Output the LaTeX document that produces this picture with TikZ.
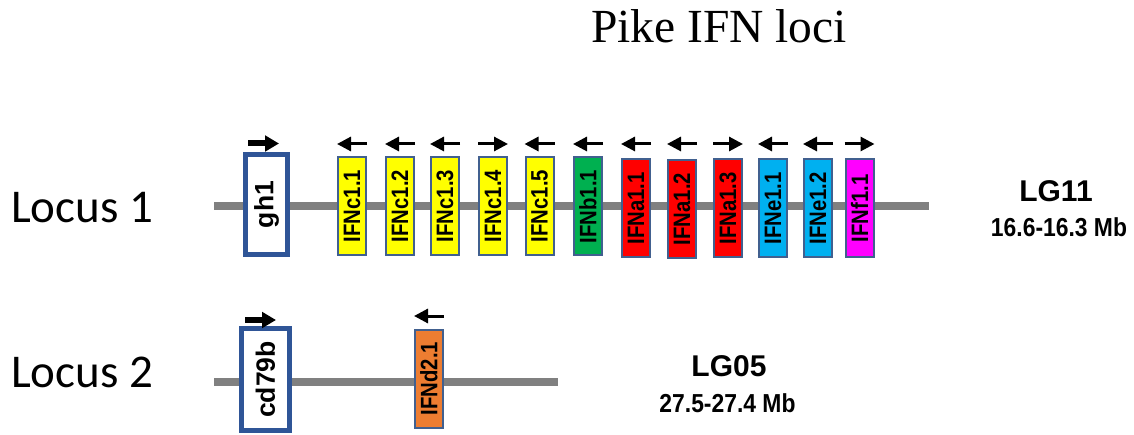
\documentclass[tikz,border=0pt]{standalone}
\usepackage{fontspec}
\setmainfont{Liberation Serif}
\newfontfamily\arialf{Liberation Sans}
\newfontfamily\calibf{Carlito}
\usetikzlibrary{arrows.meta,calc}
\definecolor{ifnyellow}{HTML}{FFFF00}
\definecolor{ifngreen}{HTML}{00B050}
\definecolor{ifnred}{HTML}{FF0000}
\definecolor{ifnblue}{HTML}{00B0F0}
\definecolor{ifnmag}{HTML}{FF00FF}
\definecolor{ifnorange}{HTML}{ED7D31}
\definecolor{boxborder}{HTML}{2F5597}
\definecolor{thinborder}{HTML}{41608F}
\definecolor{chrom}{HTML}{808080}
\newcommand{\genetext}[1]{\scalebox{1}[1.17]{#1}}
\tikzset{
  chromline/.style={draw=chrom, line width=7.5pt},
  gene/.style={draw=thinborder, line width=2pt, rotate=90, minimum width=98pt, minimum height=28pt, inner sep=0pt, font=\arialf\bfseries\fontsize{20.3}{20}\selectfont},
  bigbox/.style={draw=boxborder, fill=white, line width=5pt, rotate=90, inner sep=0pt, font=\arialf\bfseries\fontsize{26.5}{26}\selectfont},
  thinarr/.style={line width=3pt, -{Triangle[length=14pt,width=14pt]}},
  thickarr/.style={line width=6pt, -{Triangle[length=14pt,width=15.5pt]}},
  locuslabel/.style={font=\calibf\fontsize{47}{47}\selectfont, inner sep=0pt, anchor=base west},
  lglabel/.style={font=\arialf\bfseries\fontsize{30}{30}\selectfont, inner sep=0pt, anchor=base},
  mblabel/.style={font=\arialf\bfseries\fontsize{26}{26}\selectfont, inner sep=0pt, anchor=base, xscale=0.88},
}
\begin{document}
\begin{tikzpicture}[x=1pt,y=1pt]
\useasboundingbox (0,0) rectangle (1134,434);
% title
\node[font=\fontsize{47.5}{47.5}\selectfont, inner sep=0pt, anchor=base] (title) at (719,391) {Pike IFN loci};
% locus labels
\node[locuslabel] (loc1) at (11,211) {Locus 1};
\node[locuslabel] (loc2) at (11,47) {Locus 2};
% chromosome lines
\coordinate (l1a) at (214,228);
\coordinate (l1b) at (929,228);
\coordinate (l2a) at (214,52);
\coordinate (l2b) at (558,52);
\draw[chromline] (l1a) -- (l1b);
\draw[chromline] (l2a) -- (l2b);
% big boxes
\node[bigbox, minimum width=100pt, minimum height=42pt] (gh1) at (266.5,229.5) {gh1};
\draw[thickarr] (248,290.5) -- (279,290.5);
\node[bigbox, minimum width=102pt, minimum height=48pt] (cd79b) at (265.5,54.5) {cd79b};
\draw[thickarr] (245,114) -- (276,114);
% IFN genes locus 1
\foreach \n/\x/\y/\c/\t/\d in {
  c11/352/228/ifnyellow/IFNc1.1/-1,
  c12/400/228/ifnyellow/IFNc1.2/-1,
  c13/445/228/ifnyellow/IFNc1.3/-1,
  c14/493/228/ifnyellow/IFNc1.4/1,
  c15/539.5/228/ifnyellow/IFNc1.5/-1,
  b11/588/227.5/ifngreen/IFNb1.1/-1,
  a11/636/225.5/ifnred/IFNa1.1/-1,
  a12/682/225/ifnred/IFNa1.2/-1,
  a13/728/225.5/ifnred/IFNa1.3/1,
  e11/773/225.5/ifnblue/IFNe1.1/-1,
  e12/818/225.5/ifnblue/IFNe1.2/-1,
  f11/859.5/225.5/ifnmag/IFNf1.1/1}{
  \node[gene, fill=\c] (\n) at (\x,\y) {\genetext{\t}};
  \draw[thinarr] ({\x-15*\d},290) -- ({\x+15*\d},290);
}
% IFN gene locus 2
\node[gene, fill=ifnorange] (d21) at (429,55.5) {\genetext{IFNd2.1}};
\draw[thinarr] (444,118) -- (414,118);
% LG labels
\node[lglabel] (lg11) at (1056,232) {LG11};
\node[mblabel] (mb11) at (1059,197) {16.6-16.3 Mb};
\node[lglabel] (lg05) at (729,58) {LG05};
\node[mblabel] (mb05) at (727.5,22) {27.5-27.4 Mb};
\end{tikzpicture}
\end{document}
